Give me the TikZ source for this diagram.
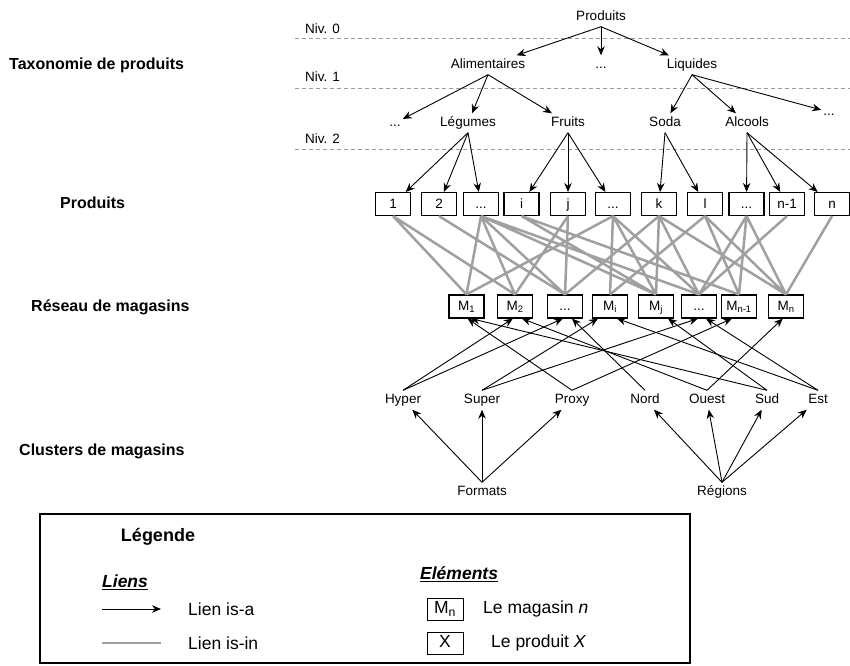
\documentclass[tikz,border=0pt]{standalone}
\usepackage{fontspec}
\setmainfont{Liberation Sans}
\usetikzlibrary{arrows.meta}
\definecolor{isingrey}{RGB}{160,160,160}
\definecolor{nivgrey}{RGB}{155,155,155}
\tikzset{
  lbl/.style={font=\fontsize{13.5}{16}\selectfont, inner xsep=2pt, inner ysep=3pt, text height=10pt, text depth=3pt},
  side/.style={font=\fontsize{16}{19}\selectfont\bfseries, anchor=west, inner sep=0pt},
  niv/.style={font=\fontsize{13.5}{16}\selectfont, anchor=west, inner sep=0pt},
  elem/.style={draw, line width=1.1pt, fill=white, minimum width=35pt, minimum height=23pt, inner sep=0pt, text height=10pt, text depth=2pt, font=\fontsize{13.5}{16}\selectfont},
  isa/.style={-{Stealth[length=9pt,width=7.5pt]}, line width=0.9pt},
  isin/.style={line width=2.5pt, isingrey},
  levelline/.style={nivgrey, line width=0.9pt, dash pattern=on 4pt off 3pt},
  leg/.style={font=\fontsize{17.5}{20}\selectfont, anchor=west, inner sep=0pt}
}
\begin{document}
\begin{tikzpicture}[x=1pt,y=-1pt]
	\useasboundingbox (0,0) rectangle (850,665);
	\draw[levelline] (295,38) -- (850,38);
	\draw[levelline] (295,88) -- (850,88);
	\draw[levelline] (295,149) -- (850,149);
	\node[niv] (niv0) at (305,29) {Niv. 0};
	\node[niv] (niv1) at (305,77) {Niv. 1};
	\node[niv] (niv2) at (305,139) {Niv. 2};

	\node[side] (taxo) at (9,65) {Taxonomie de produits};
	\node[side] (prodlbl) at (60,203) {Produits};
	\node[side] (reseau) at (31,307) {Réseau de magasins};
	\node[side] (clusters) at (19,451) {Clusters de magasins};

	\node[lbl] (prod) at (601,17) {Produits};
	\node[lbl] (alim) at (488,65) {Alimentaires};
	\node[lbl] (dots1) at (601,65) {...};
	\node[lbl] (liq) at (692,65) {Liquides};
	\node[lbl] (dotsA) at (395,123) {...};
	\node[lbl] (legum) at (468,123) {Légumes};
	\node[lbl] (fruit) at (568,123) {Fruits};
	\node[lbl] (soda) at (665,123) {Soda};
	\node[lbl] (alc) at (747,123) {Alcools};
	\node[lbl] (dotsB) at (829,112) {...};

	\node[elem] (p1) at (393,204) {1};
	\node[elem] (p2) at (439,204) {2};
	\node[elem] (p3) at (481,204) {...};
	\node[elem] (pi) at (521.5,204) {i};
	\node[elem] (pj) at (568,204) {j};
	\node[elem] (p6) at (613,204) {...};
	\node[elem] (pk) at (659,204) {k};
	\node[elem] (pl) at (705,204) {l};
	\node[elem] (p9) at (746.5,204) {...};
	\node[elem] (pm) at (787,204) {n-1};
	\node[elem] (pn) at (832,204) {n};

	\node[elem] (m1) at (466.5,306.5) {M\textsubscript{1}};
	\node[elem] (m2) at (515,306.5) {M\textsubscript{2}};
	\node[elem] (m3) at (565,306.5) {...};
	\node[elem] (mi) at (610,306.5) {M\textsubscript{i}};
	\node[elem] (mj) at (656,306.5) {M\textsubscript{j}};
	\node[elem] (m6) at (699,306.5) {...};
	\node[elem] (mm) at (739,306.5) {M\textsubscript{n-1}};
	\node[elem] (mn) at (786,306.5) {M\textsubscript{n}};

	\node[lbl] (hyper) at (403,400) {Hyper};
	\node[lbl] (super) at (482,400) {Super};
	\node[lbl] (proxy) at (572,400) {Proxy};
	\node[lbl] (nord) at (645,400) {Nord};
	\node[lbl] (ouest) at (707,400) {Ouest};
	\node[lbl] (sud) at (767,400) {Sud};
	\node[lbl] (est) at (818,400) {Est};
	\node[lbl] (formats) at (482,492) {Formats};
	\node[lbl] (regions) at (722,492) {Régions};

	\draw[isa] (prod.south) -- (alim);
	\draw[isa] (prod.south) -- (dots1);
	\draw[isa] (prod.south) -- (liq);
	\draw[isa] (alim.south) -- (dotsA);
	\draw[isa] (alim.south) -- (legum);
	\draw[isa] (alim.south) -- (fruit);
	\draw[isa] (liq.south) -- (soda);
	\draw[isa] (liq.south) -- (alc);
	\draw[isa] (liq.south) -- (dotsB);
	\draw[isa] (legum.south) -- (p1);
	\draw[isa] (legum.south) -- (p2);
	\draw[isa] (legum.south) -- (p3);
	\draw[isa] (fruit.south) -- (pi);
	\draw[isa] (fruit.south) -- (pj);
	\draw[isa] (fruit.south) -- (p6);
	\draw[isa] (soda.south) -- (pk);
	\draw[isa] (soda.south) -- (pl);
	\draw[isa] (alc.south) -- (p9);
	\draw[isa] (alc.south) -- (pm);
	\draw[isa] (alc.south) -- (pn);

	\draw[isin] (p1.south) -- (m1.north) (p1.south) -- (m2.north)
		(p2.south) -- (m3.north)
		(p3.south) -- (m1.north) (p3.south) -- (m2.north) (p3.south) -- (m3.north)
		(p3.south) -- (mj.north) (p3.south) -- (m6.north)
		(pi.south) -- (mj.north) (pi.south) -- (mm.north)
		(pj.south) -- (m2.north) (pj.south) -- (m3.north)
		(p6.south) -- (m1.north) (p6.south) -- (mi.north) (p6.south) -- (mj.north) (p6.south) -- (m6.north)
		(pk.south) -- (m3.north) (pk.south) -- (mj.north) (pk.south) -- (m6.north) (pk.south) -- (mn.north)
		(pl.south) -- (mi.north) (pl.south) -- (mm.north) (pl.south) -- (mn.north)
		(p9.south) -- (m6.north) (p9.south) -- (mm.north) (p9.south) -- (mn.north)
		(pm.south) -- (m6.north)
		(pn.south) -- (mn.north);

	\draw[isa] (hyper.north) -- (m2.-100);
	\draw[isa] (hyper.north) -- (m3.-100);
	\draw[isa] (super.north) -- (mi.-135);
	\draw[isa] (super.north) -- (m6.-95);
	\draw[isa] (proxy.north) -- (m1.-85);
	\draw[isa] (proxy.north) -- (mm.-120);
	\draw[isa] (nord.north) -- (m3.-60);
	\draw[isa] (ouest.north) -- (m2.-60);
	\draw[isa] (ouest.north) -- (mn.-105);
	\draw[isa] (sud.north) -- (m1.-70);
	\draw[isa] (sud.north) -- (mj.-45);
	\draw[isa] (est.north) -- (mi.-60);
	\draw[isa] (est.north) -- (m6.-60);

	\draw[isa] (formats.north) -- (hyper);
	\draw[isa] (formats.north) -- (super);
	\draw[isa] (formats.north) -- (proxy);
	\draw[isa] (regions.north) -- (nord);
	\draw[isa] (regions.north) -- (ouest);
	\draw[isa] (regions.north) -- (sud);
	\draw[isa] (regions.north) -- (est);

	\draw[line width=2.5pt] (40,514) rectangle (690,663);
	\node[font=\fontsize{18}{21}\selectfont\bfseries, inner sep=0pt] (legende) at (158,537) {Légende};
	\node[leg, font=\fontsize{17.5}{20}\selectfont\bfseries\itshape] (liens) at (102,582) {\underline{Liens}};
	\coordinate (isaA) at (102,609);
	\coordinate (isaB) at (161,609);
	\draw[isa] (isaA) -- (isaB);
	\node[leg] (lisa) at (188,609) {Lien is-a};
	\coordinate (isinA) at (102,643);
	\coordinate (isinB) at (161,643);
	\draw[isin] (isinA) -- (isinB);
	\node[leg] (lisin) at (188,643) {Lien is-in};
	\node[leg, font=\fontsize{17.5}{20}\selectfont\bfseries\itshape] (elems) at (420,574) {\underline{Eléments}};
	\node[elem, line width=0.8pt, minimum width=36pt, minimum height=22pt, text height=12pt, text depth=3pt, font=\fontsize{17.5}{20}\selectfont] (legm) at (445,609) {M\textsubscript{n}};
	\node[leg] (lmag) at (483,609) {Le magasin \textit{n}};
	\node[elem, line width=0.8pt, minimum width=36pt, minimum height=22pt, text height=12pt, text depth=3pt, font=\fontsize{17.5}{20}\selectfont] (legx) at (445,643) {X};
	\node[leg] (lprod) at (491,643) {Le produit \textit{X}};
\end{tikzpicture}
\end{document}
